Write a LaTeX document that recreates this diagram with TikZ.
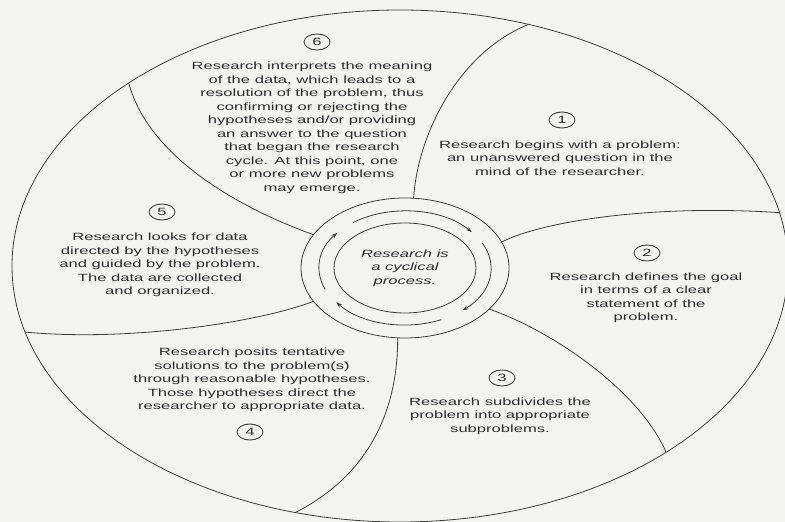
\documentclass[tikz,border=0pt]{standalone}
\usepackage{fontspec}
\newfontfamily\cyclefont{Liberation Sans}[FakeStretch=1.58]
\usetikzlibrary{shapes.geometric, arrows.meta}
\definecolor{paper}{RGB}{243,243,240}
\definecolor{ink}{RGB}{60,60,60}
\definecolor{textink}{RGB}{45,45,45}

\begin{document}
\begin{tikzpicture}[x=1pt, y=1pt,
    oval/.style={draw=ink, ellipse, line width=0.8pt, inner sep=0pt, outer sep=0pt},
    divider/.style={draw=ink, line width=0.8pt},
    flow/.style={draw=ink, line width=0.8pt, -{Stealth[length=6pt, width=4pt]}},
    stepnum/.style={draw=ink, ellipse, line width=0.9pt, minimum width=26pt, minimum height=16pt,
                    inner sep=0pt, text=textink, font=\cyclefont\fontsize{10.5}{12}\selectfont},
    stepbox/.style={align=center, text=textink, font=\cyclefont\fontsize{10.5}{13.5}\selectfont}]

  % Fondo
  \fill[paper] (0,0) rectangle (785,522);
  \useasboundingbox (0,0) rectangle (785,522);

  % Elipses
  \node[oval, minimum width=776pt, minimum height=512pt] (rim) at (400,256) {};
  \node[oval, minimum width=208pt, minimum height=140pt] (ring) at (405,254) {};
  \node[oval, minimum width=142pt, minimum height=90pt, stepbox,
        font=\cyclefont\itshape\fontsize{10.5}{13.5}\selectfont] (core) at (405,254)
      {Research is\\a cyclical\\process.};

  % Ciclo
  \foreach \from/\to in {127/39, 26/-48, -65/-143, -158/-218}
    \draw[flow] ([shift={(\from:86 and 57)}]core.center)
      arc[start angle=\from, end angle=\to, x radius=86, y radius=57];

  % Divisiones
  \draw[divider] (ring.83) .. controls (418,390) and (460,470) .. (rim.62);
  \draw[divider] (ring.15) .. controls (540,300) and (650,318) .. (rim.8);
  \draw[divider] (ring.-26) .. controls (555,190) and (640,130) .. (rim.-35);
  \draw[divider] (ring.-96) .. controls (398,120) and (375,50) .. (rim.-113);
  \draw[divider] (ring.-160) .. controls (260,200) and (130,180) .. (rim.190);
  \draw[divider] (ring.160) .. controls (250,310) and (150,360) .. (rim.146);

  % Pasos
  \node[stepnum] (n1) at (562,402) {1};
  \node[stepbox] (t1) at (560,364)
      {Research begins with a problem:\\an unanswered question in the\\mind of the researcher.};

  \node[stepnum] (n2) at (647,269) {2};
  \node[stepbox] (t2) at (646,224)
      {Research defines the goal\\in terms of a clear\\statement of the\\problem.};

  \node[stepnum] (n3) at (502,144) {3};
  \node[stepbox] (t3) at (500,106)
      {Research subdivides the\\problem into appropriate\\subproblems.};

  \node[stepbox] (t4) at (252,142)
      {Research posits tentative\\solutions to the problem(s)\\through reasonable hypotheses.\\Those hypotheses direct the\\researcher to appropriate data.};
  \node[stepnum] (n4) at (250,90) {4};

  \node[stepnum] (n5) at (162,310) {5};
  \node[stepbox] (t5) at (160,257)
      {Research looks for data\\directed by the hypotheses\\and guided by the problem.\\The data are collected\\and organized.};

  \node[stepnum] (n6) at (317,480) {6};
  \node[stepbox] (t6) at (312,394)
      {Research interprets the meaning\\of the data, which leads to a\\resolution of the problem, thus\\confirming or rejecting the\\hypotheses and/or providing\\an answer to the question\\that began the research\\cycle. At this point, one\\or more new problems\\may emerge.};
\end{tikzpicture}
\end{document}
